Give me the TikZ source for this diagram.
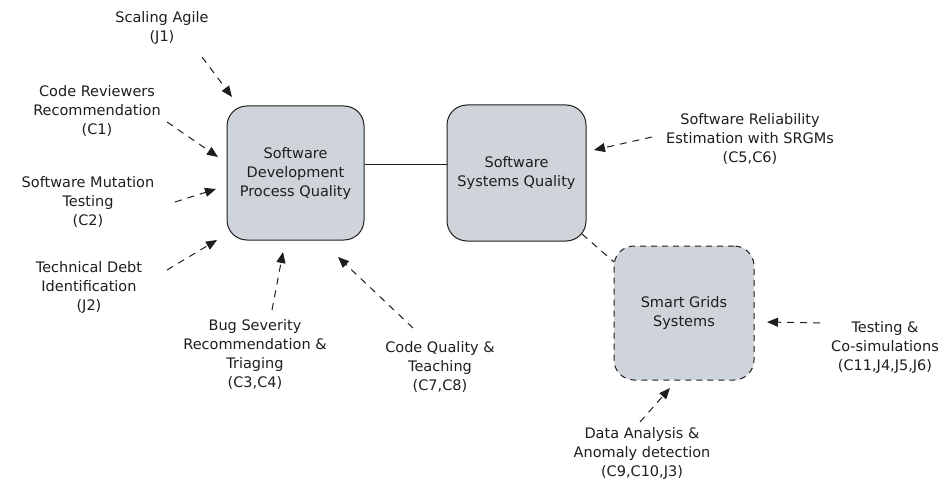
\documentclass[tikz,border=0pt]{standalone}
\usepackage{fontspec}
\setmainfont{DejaVu Sans}
\usetikzlibrary{arrows.meta}
\definecolor{ink}{HTML}{1E1E1E}
\definecolor{boxfill}{HTML}{CED4DA}
\begin{document}
\begin{tikzpicture}[x=1pt, y=-1pt,
  area/.style={draw=ink, fill=boxfill, rounded corners=20pt, line width=1pt,
    minimum width=137pt, minimum height=134pt, inner sep=0pt, align=center,
    text=ink, font=\fontsize{14.5}{19}\selectfont},
  lbl/.style={align=center, text=ink, font=\fontsize{14.5}{19}\selectfont, inner sep=0pt},
  feed/.style={draw=ink, line width=1pt, dash pattern=on 7pt off 6pt,
    -{Triangle[length=11pt, width=9pt]}},
]
\useasboundingbox (0,0) rectangle (949,481);

% research areas
\node[area] (sdpq) at (295.5,173) {Software\\Development\\Process Quality};
\node[area, minimum width=139pt, minimum height=136pt] (ssq) at (516.5,173) {Software\\Systems Quality};
\node[area, minimum width=140pt, dash pattern=on 6pt off 5pt] (sgs) at (684,313) {Smart Grids\\Systems};

% links between areas
\draw[draw=ink, line width=1pt] ([yshift=8pt]sdpq.east) -- ([yshift=8pt]ssq.west);
\coordinate (ssqcorner) at (582,234);
\coordinate (sgscorner) at (614,262);
\draw[draw=ink, line width=1pt, dash pattern=on 7pt off 6pt] (ssqcorner) -- (sgscorner);

% contributions
\node[lbl] (agile) at (162,28) {Scaling Agile\\(J1)};
\node[lbl] (review) at (97,111) {Code Reviewers\\Recommendation\\(C1)};
\node[lbl] (mutation) at (88,202) {Software Mutation\\Testing\\(C2)};
\node[lbl] (debt) at (89,287) {Technical Debt\\Identification\\(J2)};
\node[lbl] (bug) at (255,354) {Bug Severity\\Recommendation \&\\Triaging\\(C3,C4)};
\node[lbl] (codeq) at (440,367) {Code Quality \&\\Teaching\\(C7,C8)};
\node[lbl] (srgm) at (750,139) {Software Reliability\\Estimation with SRGMs\\(C5,C6)};
\node[lbl] (testing) at (885,347) {Testing \&\\Co-simulations\\(C11,J4,J5,J6)};
\node[lbl] (data) at (642,453) {Data Analysis \&\\Anomaly detection\\(C9,C10,J3)};

% arrow ends
\coordinate (agileS) at (202,57);    \coordinate (agileT) at (232,97);
\coordinate (reviewS) at (167,122);  \coordinate (reviewT) at (218,157);
\coordinate (mutS) at (175,202);     \coordinate (mutT) at (216,189);
\coordinate (debtS) at (167,270);    \coordinate (debtT) at (217,240);
\coordinate (bugS) at (272,310);     \coordinate (bugT) at (283,252);
\coordinate (codeqS) at (413,328);   \coordinate (codeqT) at (338,257);
\coordinate (srgmS) at (652,137);    \coordinate (srgmT) at (594,150);
\coordinate (testS) at (820,323);    \coordinate (testT) at (767,322);
\coordinate (dataS) at (640,422);    \coordinate (dataT) at (670,388);

\draw[feed] (agileS) -- (agileT);
\draw[feed] (reviewS) -- (reviewT);
\draw[feed] (mutS) -- (mutT);
\draw[feed] (debtS) -- (debtT);
\draw[feed] (bugS) -- (bugT);
\draw[feed] (codeqS) -- (codeqT);
\draw[feed] (srgmS) -- (srgmT);
\draw[feed] (testS) -- (testT);
\draw[feed] (dataS) -- (dataT);
\end{tikzpicture}
\end{document}
